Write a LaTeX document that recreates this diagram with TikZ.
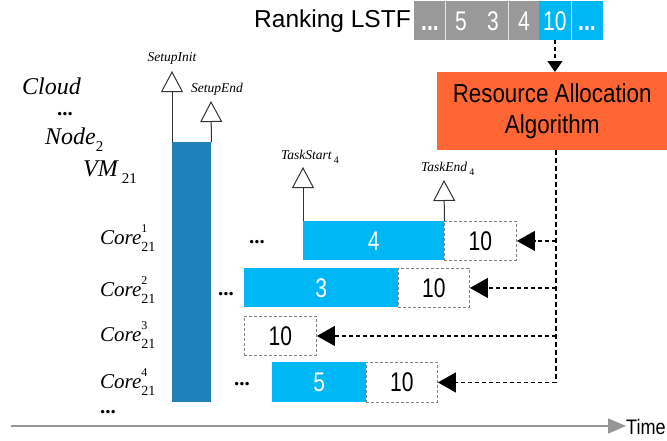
\documentclass[tikz,border=0pt]{standalone}
\usepackage{fontspec}
\setmainfont{Liberation Serif}
\setsansfont{Liberation Sans}
\newfontfamily\narrowsans[FakeStretch=0.86]{Liberation Sans}
\newfontfamily\numsans[FakeStretch=0.78]{Liberation Sans}
\usetikzlibrary{arrows.meta}

\definecolor{barblue}{RGB}{31,128,186}
\definecolor{taskcyan}{RGB}{0,183,245}
\definecolor{allocorange}{RGB}{255,102,51}
\definecolor{queuegray}{RGB}{153,153,153}
\definecolor{axisgray}{RGB}{150,150,150}
\definecolor{slotgray}{RGB}{130,130,130}

% Core label with stacked super- and subscript
\newcommand\corelabel[1]{Core\rlap{\raisebox{0.55em}{\upshape\fontsize{12}{12}\selectfont #1}}\raisebox{-0.32em}{\upshape\fontsize{14}{14}\selectfont 21}}
\newcommand\smallsub[1]{\,\raisebox{-0.3em}{\upshape\fontsize{10}{10}\selectfont #1}}

\begin{document}
\begin{tikzpicture}[x=1pt,y=-1pt,
  hier/.style={font=\fontsize{24}{26}\selectfont\itshape, anchor=west, inner sep=0pt},
  corename/.style={font=\fontsize{21}{23}\selectfont\itshape, anchor=west, inner sep=0pt},
  eventname/.style={font=\fontsize{13.5}{14}\selectfont\itshape, inner sep=0pt},
  dots/.style={font=\fontsize{21}{21}\selectfont\bfseries, inner sep=0pt},
  taskbox/.style={fill=taskcyan, draw=none, text=white, anchor=north west, inner sep=0pt,
                  text height=19pt, text depth=0pt, font=\numsans\fontsize{27}{27}\selectfont},
  slotbox/.style={draw=slotgray, line width=0.9pt, dash pattern=on 3pt off 2pt, anchor=north west,
                  inner sep=0pt, text height=19pt, text depth=0pt, font=\numsans\fontsize{27}{27}\selectfont},
  queuecell/.style={minimum width=31.5pt, minimum height=39pt, inner sep=0pt, anchor=north west,
                  text height=19pt, text depth=0pt, text=white, font=\numsans\fontsize{27}{27}\selectfont},
  marker/.style={draw=black!80, line width=1pt, -{Triangle[open, length=21pt, width=22pt]}},
  feed/.style={draw=black, line width=1.1pt, dash pattern=on 4pt off 3pt},
  feedtip/.style={feed, -{Triangle[length=18pt, width=20pt]}}
]
\useasboundingbox (0,0) rectangle (667,440);

% ranking queue
\node[font=\fontsize{24.5}{26}\selectfont\sffamily, anchor=west, inner sep=0pt] (rank) at (254,21) {Ranking LSTF};
\fill[queuegray] (414,1) rectangle (539,40);
\fill[taskcyan] (539,1) rectangle (603,40);
\draw[white!75!queuegray, line width=0.8pt] (445,1) -- (445,40) (508,1) -- (508,40);
\draw[white!75!taskcyan, line width=0.8pt] (571,1) -- (571,40);
\node[queuecell] (qdots) at (414,1) {\bfseries...};
\node[queuecell] (q5) at (445,1) {5};
\node[queuecell] (q3) at (477,1) {3};
\node[queuecell] (q4) at (508,1) {4};
\node[queuecell] (q10) at (539,1) {10};
\node[queuecell] (qmore) at (571,1) {\bfseries...};

% allocation algorithm
\node[fill=allocorange, anchor=north west, minimum width=230pt, minimum height=78pt, inner sep=0pt,
      align=center, font=\narrowsans\fontsize{26}{31}\selectfont] (alloc) at (437,72)
      {Resource Allocation\\Algorithm};
\draw[feed, -{Triangle[length=11pt, width=15pt]}] (q10.south) -- (q10.south |- alloc.north);

% hierarchy labels
\node[hier] (cloud) at (22,86) {Cloud};
\node[dots] (hdots) at (65,114) {...};
\node[hier] (node2) at (45,140) {Node\raisebox{-0.3em}{\upshape\fontsize{15}{15}\selectfont 2}};
\node[hier] (vm) at (83,172) {VM\,\raisebox{-0.32em}{\upshape\fontsize{15}{15}\selectfont 21}};
\node[corename] (core1) at (100,238) {\corelabel{1}};
\node[corename] (core2) at (100,290) {\corelabel{2}};
\node[corename] (core3) at (100,335) {\corelabel{3}};
\node[corename] (core4) at (100,382) {\corelabel{4}};
\node[dots] (cdots) at (108,412) {...};

% VM setup period
\node[fill=barblue, anchor=north west, minimum width=39pt, minimum height=260pt, inner sep=0pt] (setup) at (172,142) {};
\coordinate (initTop) at (172,71);
\coordinate (endTop) at (211,101);
\draw[marker] (setup.north west) -- (initTop);
\draw[marker] (setup.north east) -- (endTop);
\node[eventname] (initLbl) at (172,58) {SetupInit};
\node[eventname, anchor=west] (endLbl) at (191,89) {SetupEnd};

% core timelines
\node[dots] (d1) at (257,242) {...};
\node[taskbox, minimum width=141pt, minimum height=39pt] (t4) at (303,221) {4};
\node[slotbox, minimum width=72pt, minimum height=39pt] (s1) at (444,221) {10};

\node[dots] (d2) at (226,294) {...};
\node[taskbox, minimum width=154pt, minimum height=39pt] (t3) at (244,268) {3};
\node[slotbox, minimum width=71pt, minimum height=39pt] (s2) at (398,268) {10};

\node[slotbox, minimum width=72pt, minimum height=39pt] (s3) at (244,316) {10};

\node[dots] (d4) at (242,384) {...};
\node[taskbox, minimum width=94pt, minimum height=40pt] (t5) at (272,362) {5};
\node[slotbox, minimum width=71pt, minimum height=40pt] (s4) at (366,362) {10};

% task 4 start and end events
\coordinate (startTop) at (303,167);
\coordinate (finishTop) at (444,180);
\draw[marker] (t4.north west) -- (startTop);
\draw[marker] (t4.north east) -- (finishTop);
\node[eventname, anchor=west] (startLbl) at (281,157) {TaskStart\smallsub{4}};
\node[eventname, anchor=west] (finishLbl) at (421,169) {TaskEnd\smallsub{4}};

% allocation feedback to the cores
\coordinate (trunk) at (556,150);
\draw[feed, dash pattern=on 5pt off 3pt] (trunk) -- (trunk |- s4.east);
\draw[feedtip] (trunk |- s1.east) -- (s1.east);
\draw[feedtip] (trunk |- s2.east) -- (s2.east);
\draw[feedtip] (trunk |- s3.east) -- (s3.east);
\draw[feedtip] (trunk |- s4.east) -- (s4.east);

% time axis
\coordinate (axisStart) at (11,426);
\node[font=\narrowsans\fontsize{21}{22}\selectfont, anchor=west, inner sep=0pt] (time) at (626,427) {Time};
\draw[draw=axisgray, line width=1.5pt, -{Triangle[length=18pt, width=15pt]}] (axisStart) -- (axisStart -| time.west);
\end{tikzpicture}
\end{document}
